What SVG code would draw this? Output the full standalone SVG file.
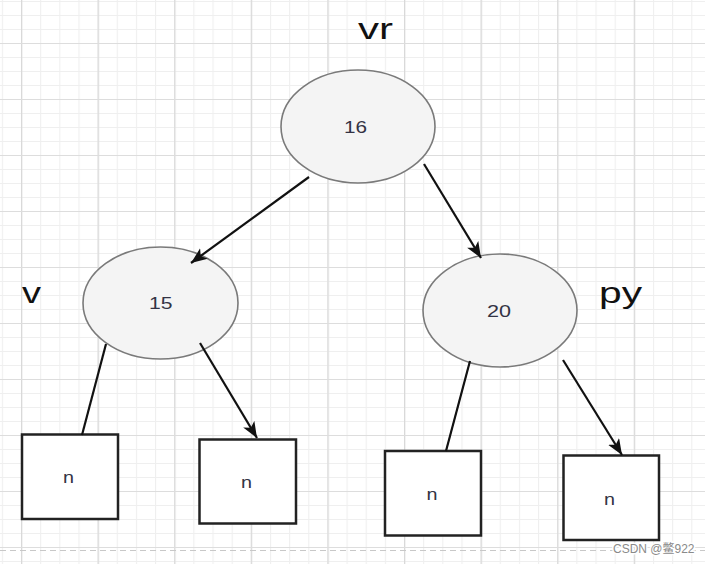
<svg xmlns="http://www.w3.org/2000/svg" width="705" height="564" viewBox="0 0 705 564">
  <style>
    .circ { fill: #f4f4f4; stroke: #7a7a7a; stroke-width: 1.6; }
    .box { fill: #ffffff; stroke: #222222; stroke-width: 2.5; }
    .num { font-family: "Liberation Sans", Arial, sans-serif; font-size: 16px; fill: #333344; }
    .lbl { font-family: "Liberation Sans", Arial, sans-serif; font-size: 30px; fill: #111111; }
    .edge { stroke: #111111; stroke-width: 2.2; fill: none; }
    .wm { font-family: "Liberation Sans", "Noto Sans CJK SC", sans-serif; font-size: 12px; fill: #8a8a8a; }
  </style>
  <defs>
    <pattern id="minor" patternUnits="userSpaceOnUse" x="1.85" y="1" width="19.15" height="14">
      <path d="M0,0 V14 M0,0 H19.15" stroke="#efefef" stroke-width="2.2" fill="none"/>
    </pattern>
    <pattern id="major" patternUnits="userSpaceOnUse" x="21" y="43" width="76.6" height="56">
      <path d="M0,0 V56" stroke="#d9d9d9" stroke-width="2.6" fill="none"/>
      <path d="M0,0 H76.6" stroke="#dddddd" stroke-width="2" fill="none"/>
    </pattern>
    <marker id="arrow" markerUnits="userSpaceOnUse" markerWidth="18" markerHeight="14" refX="16" refY="6.5" orient="auto">
      <path d="M0,0 L16,6.5 L0,13 L4,6.5 Z" fill="#111111"/>
    </marker>
  </defs>

  <g id="background">
    <rect x="0" y="0" width="705" height="564" fill="#ffffff"/>
    <rect x="0" y="0" width="705" height="564" fill="url(#minor)"/>
    <rect x="0" y="0" width="705" height="564" fill="url(#major)"/>
    <line x1="0" y1="550.5" x2="705" y2="550.5" stroke="#c8c8c8" stroke-width="1.2" stroke-dasharray="6 4"/>
  </g>

  <g id="node-16">
    <ellipse class="circ" cx="358" cy="126.5" rx="77" ry="56.5"/>
    <text class="num" x="344" y="133" textLength="23" lengthAdjust="spacingAndGlyphs">16</text>
  </g>
  <g id="node-15">
    <ellipse class="circ" cx="160.5" cy="303" rx="77.5" ry="56"/>
    <text class="num" x="149" y="309" textLength="23.5" lengthAdjust="spacingAndGlyphs">15</text>
  </g>
  <g id="node-20">
    <ellipse class="circ" cx="500" cy="310.5" rx="77" ry="56.5"/>
    <text class="num" x="487" y="317" textLength="24" lengthAdjust="spacingAndGlyphs">20</text>
  </g>

  <g id="box-1">
    <rect class="box" x="22" y="434.5" width="96" height="84.5"/>
    <text class="num" x="63" y="483" textLength="11" lengthAdjust="spacingAndGlyphs">n</text>
  </g>
  <g id="box-2">
    <rect class="box" x="199.5" y="439.5" width="96.5" height="84"/>
    <text class="num" x="241" y="488" textLength="11" lengthAdjust="spacingAndGlyphs">n</text>
  </g>
  <g id="box-3">
    <rect class="box" x="385" y="451" width="96" height="84.5"/>
    <text class="num" x="426.5" y="499.5" textLength="11" lengthAdjust="spacingAndGlyphs">n</text>
  </g>
  <g id="box-4">
    <rect class="box" x="563.5" y="455.5" width="95.5" height="84.5"/>
    <text class="num" x="604" y="504.5" textLength="11" lengthAdjust="spacingAndGlyphs">n</text>
  </g>

  <g id="connectors">
    <line class="edge" x1="309" y1="177" x2="191" y2="263" marker-end="url(#arrow)"/>
    <line class="edge" x1="424" y1="164" x2="481" y2="258" marker-end="url(#arrow)"/>
    <line class="edge" x1="106" y1="344" x2="82" y2="435"/>
    <line class="edge" x1="200" y1="343" x2="257" y2="438" marker-end="url(#arrow)"/>
    <line class="edge" x1="470" y1="361" x2="446" y2="451"/>
    <line class="edge" x1="563" y1="360" x2="622" y2="455" marker-end="url(#arrow)"/>
  </g>

  <g id="label-vr">
    <text class="lbl" x="358" y="39" textLength="35" lengthAdjust="spacingAndGlyphs">vr</text>
  </g>
  <g id="label-v">
    <text class="lbl" x="22" y="303" textLength="19" lengthAdjust="spacingAndGlyphs">v</text>
  </g>
  <g id="label-py">
    <text class="lbl" x="599" y="303" textLength="43" lengthAdjust="spacingAndGlyphs">py</text>
  </g>

  <g id="watermark">
    <text class="wm" x="613" y="553" stroke="#ffffff" stroke-width="3" paint-order="stroke">CSDN @鳖922</text>
  </g>
</svg>
